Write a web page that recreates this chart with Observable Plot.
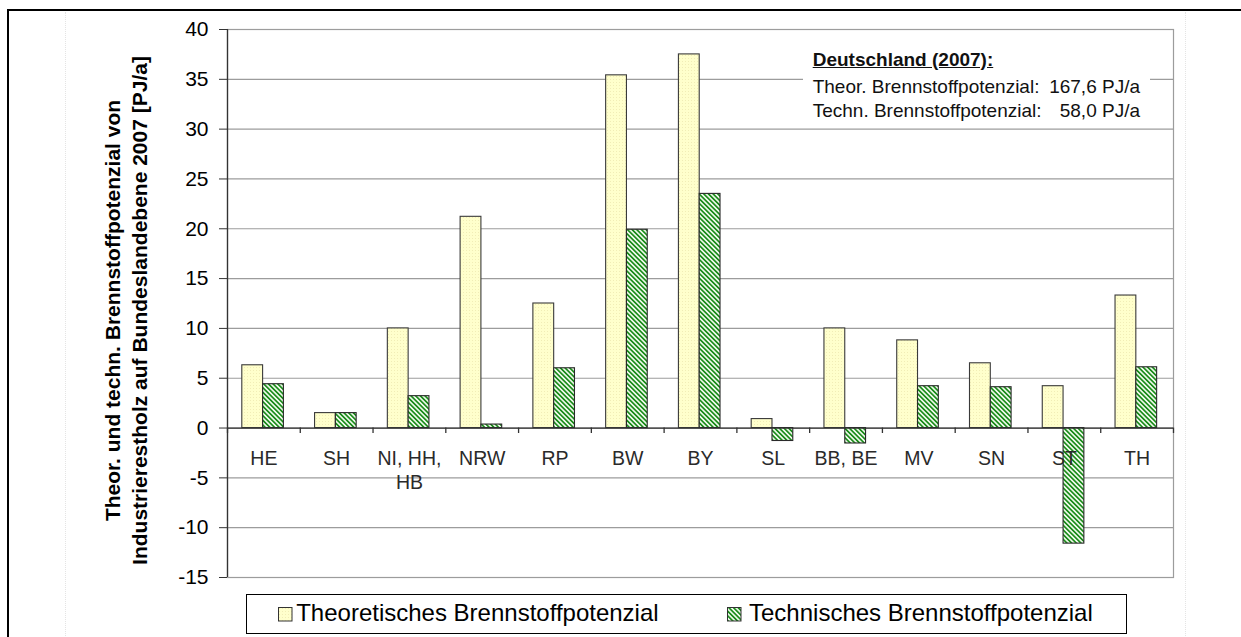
<!DOCTYPE html>
<html><head><meta charset="utf-8">
<script src="https://cdn.jsdelivr.net/npm/d3@7"></script>
<script src="https://cdn.jsdelivr.net/npm/@observablehq/plot@0.6"></script>
<style>
body{margin:0;background:#fff;overflow:hidden;font-family:"Liberation Sans",Arial,sans-serif;}
#page{position:relative;width:1241px;height:637px;overflow:hidden;background:#fff;}
#frame{position:absolute;left:7px;top:9px;width:1300px;height:700px;border-top:2px solid #000;border-left:2px solid #000;}
.faint{position:absolute;top:12px;height:630px;border-left:1px dotted #e4e4e4;}
#chart{position:absolute;left:0;top:0;}
#note{position:absolute;left:803px;top:42px;width:347px;height:82px;background:#fff;font-size:19px;line-height:19px;color:#111;}
#note div{position:absolute;white-space:pre;}
#legend{position:absolute;left:246px;top:594px;width:879px;height:38px;border:1.5px solid #000;background:#fff;font-size:24px;line-height:24px;color:#000;}
#legend span{position:absolute;white-space:pre;}
#legend svg{position:absolute;}
</style></head>
<body><div id="page">
<div id="frame"></div>
<div class="faint" style="left:65px"></div>
<div class="faint" style="left:1185px"></div>
<div id="chart"></div>
<div id="note"></div>
<div id="legend"></div>
</div>
<script>
const categories = ["HE","SH","NI, HH,\nHB","NRW","RP","BW","BY","SL","BB, BE","MV","SN","ST","TH"];
const theoretical = [6.3,1.5,10.0,21.2,12.5,35.4,37.5,0.9,10.0,8.8,6.5,4.2,13.3];
const technical = [4.4,1.5,3.2,0.35,6.0,19.9,23.5,-1.3,-1.55,4.2,4.1,-11.6,6.1];
const yTicks = [-15,-10,-5,0,5,10,15,20,25,30,35,40];
const seriesNames = ["Theoretisches Brennstoffpotenzial","Technisches Brennstoffpotenzial"];
const yTitleLines = ["Theor. und techn. Brennstoffpotenzial von","Industrierestholz auf Bundeslandebene 2007 [PJ/a]"];
const noteTitle = "Deutschland (2007):";
const noteLabels = ["Theor. Brennstoffpotenzial:","Techn. Brennstoffpotenzial:"];
const noteValues = ["167,6 PJ/a","58,0 PJ/a"];

const rows = categories.map((c,i)=>({cat:c, theo:theoretical[i], tech:technical[i]}));

const W=1241, H=590, mL=227, mR=68, mT=29, mB=13;
const bw=(W-mL-mR)/categories.length;
const barW=20.8, pairCenter=35.6;

const chart = Plot.plot({
  width:W, height:H, marginLeft:mL, marginRight:mR, marginTop:mT, marginBottom:mB,
  style:{fontFamily:'"Liberation Sans", Arial, sans-serif', fontSize:"19px", background:"transparent", color:"#000", overflow:"visible"},
  x:{domain:categories, padding:0, round:false, axis:null},
  y:{domain:[-15,40], axis:null},
  marks:[
    Plot.gridY(yTicks,{stroke:"#9c9c9c", strokeOpacity:1, strokeWidth:1.2}),
    Plot.frame({stroke:"#9c9c9c", strokeWidth:1.2}),
    Plot.barY(rows,{x:"cat", y:"theo", fill:"url(#pat-theo)", stroke:"#3a3a3a", strokeWidth:1.1, insetLeft:pairCenter-barW, insetRight:bw-pairCenter}),
    Plot.barY(rows,{x:"cat", y:"tech", fill:"url(#pat-tech)", stroke:"#2a2a2a", strokeWidth:1.1, insetLeft:pairCenter, insetRight:bw-pairCenter-barW}),
    Plot.text(categories,{x:d=>d, y:0, text:d=>d, lineAnchor:"top", dy:20, lineHeight:1.23, fill:"#2a2a2a", fontSize:19.5}),
    Plot.ruleY([0],{stroke:"#333", strokeWidth:1.3}),
    Plot.ruleX(categories,{x:d=>d, y1:0, y2:-0.55, dx:-bw/2, stroke:"#333", strokeWidth:1.3}),
    Plot.ruleX([categories[categories.length-1]],{x:d=>d, y1:0, y2:-0.55, dx:bw/2, stroke:"#333", strokeWidth:1.3}),
    Plot.ruleX([categories[0]],{x:d=>d, dx:-bw/2, stroke:"#333", strokeWidth:1.3}),
    Plot.axisY(yTicks,{tickSize:8, tickPadding:11, tickFormat:d=>String(d), fontSize:21, label:null, stroke:"#333", fill:"#000"}),
    Plot.text([yTitleLines.join("\n")],{text:d=>d, frameAnchor:"left", textAnchor:"middle", rotate:-90, dx:-103, dy:7, fontWeight:"bold", fontSize:21, lineHeight:1.29, lineAnchor:"middle", fill:"#000"})
  ]
});
document.getElementById("chart").appendChild(chart);

// patterns
const svg = d3.select(chart);
const defs = svg.insert("defs", ":first-child");
const pt = defs.append("pattern").attr("id","pat-theo").attr("patternUnits","userSpaceOnUse").attr("width",3).attr("height",3);
pt.append("rect").attr("width",3).attr("height",3).attr("fill","#ffffcc");
pt.append("rect").attr("x",1).attr("y",1).attr("width",1).attr("height",1).attr("fill","#f1edb6");
const ph = defs.append("pattern").attr("id","pat-tech").attr("patternUnits","userSpaceOnUse").attr("width",3.3).attr("height",3.3).attr("patternTransform","rotate(-45)");
ph.append("rect").attr("width",3.3).attr("height",3.3).attr("fill","#f2fbee");
ph.append("rect").attr("width",1.7).attr("height",3.3).attr("fill","#1b8c1b");

// annotation
const note = d3.select("#note");
note.append("div").style("left","9.7px").style("top","7.9px").style("font-weight","bold").style("text-decoration","underline").text(noteTitle);
noteLabels.forEach((l,i)=>{
  const top = [34.6,59.2][i];
  note.append("div").style("left","9.7px").style("top",top+"px").text(l);
  note.append("div").style("right","10px").style("top",top+"px").text(noteValues[i]);
});

// legend
const leg = d3.select("#legend");
const fills = ["url(#pat-theo)","url(#pat-tech)"];
const swLeft = [30.8, 480.2], txLeft = [49.2, 502];
seriesNames.forEach((n,i)=>{
  const s = leg.append("svg").attr("width",15).attr("height",15).style("left",swLeft[i]+"px").style("top","11.5px");
  s.append("rect").attr("x",0.5).attr("y",0.5).attr("width",13.5).attr("height",13.5).attr("fill",fills[i]).attr("stroke","#333");
  leg.append("span").style("left",txLeft[i]+"px").style("top","5.9px").text(n);
});
</script>
</body></html>
